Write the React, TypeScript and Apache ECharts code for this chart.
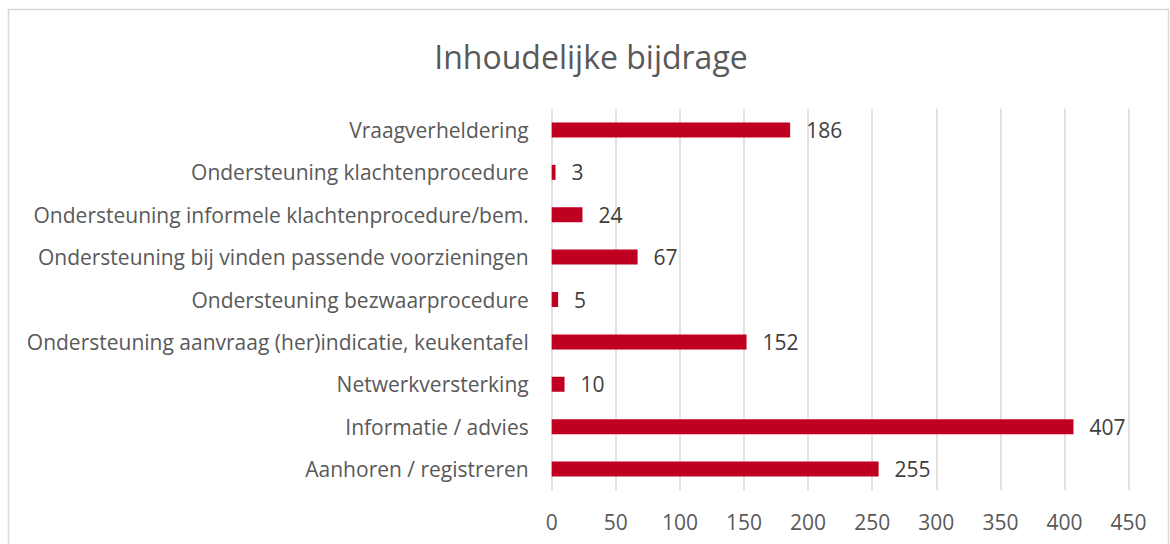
import React, { useEffect, useRef } from "react";
import * as echarts from "echarts";

const categories = [
  "Vraagverheldering",
  "Ondersteuning klachtenprocedure",
  "Ondersteuning informele klachtenprocedure/bem.",
  "Ondersteuning bij vinden passende voorzieningen",
  "Ondersteuning bezwaarprocedure",
  "Ondersteuning aanvraag (her)indicatie, keukentafel",
  "Netwerkversterking",
  "Informatie / advies",
  "Aanhoren / registreren",
];
const values = [186, 3, 24, 67, 5, 152, 10, 407, 255];
const titleText = "Inhoudelijke bijdrage";

const FONT = "'Open Sans', sans-serif";

export default function App() {
  const ref = useRef<HTMLDivElement>(null);
  useEffect(() => {
    if (!ref.current) return;
    const chart = echarts.init(ref.current, undefined, { renderer: "svg" });
    chart.setOption({
      animation: false,
      backgroundColor: "#ffffff",
      title: {
        text: titleText,
        left: 586,
        top: 35,
        textAlign: "center",
        textStyle: { fontFamily: FONT, fontSize: 32, fontWeight: "normal", color: "#595959" },
      },
      graphic: [
        {
          type: "rect",
          shape: { x: 8.5, y: 9.5, width: 1160, height: 545 },
          style: { fill: "none", stroke: "#d9d9d9", lineWidth: 1.5 },
          silent: true,
          z: -1,
        },
      ],
      grid: { left: 551.7, right: 41.4, top: 108.8, bottom: 53.8, containLabel: false },
      xAxis: {
        type: "value",
        min: 0,
        max: 450,
        interval: 50,
        axisLine: { show: false },
        axisTick: { show: false },
        splitLine: { show: true, lineStyle: { color: "#d9d9d9", width: 1.5 } },
        axisLabel: { fontFamily: FONT, fontSize: 21, color: "#595959", margin: 21 },
      },
      yAxis: {
        type: "category",
        data: categories,
        inverse: true,
        axisLine: { show: false },
        axisTick: { show: false },
        axisLabel: { fontFamily: FONT, fontSize: 21, color: "#595959", margin: 23 },
      },
      series: [
        {
          type: "bar",
          data: values,
          barWidth: 15,
          itemStyle: { color: "#C00020" },
          label: {
            show: true,
            position: "right",
            distance: 16,
            fontFamily: FONT,
            fontSize: 21,
            color: "#404040",
          },
        },
      ],
    });
    return () => chart.dispose();
  }, []);
  return (
    <div
      ref={ref}
      style={{ position: "fixed", left: 0, top: 0, width: 1170, height: 544 }}
    />
  );
}
